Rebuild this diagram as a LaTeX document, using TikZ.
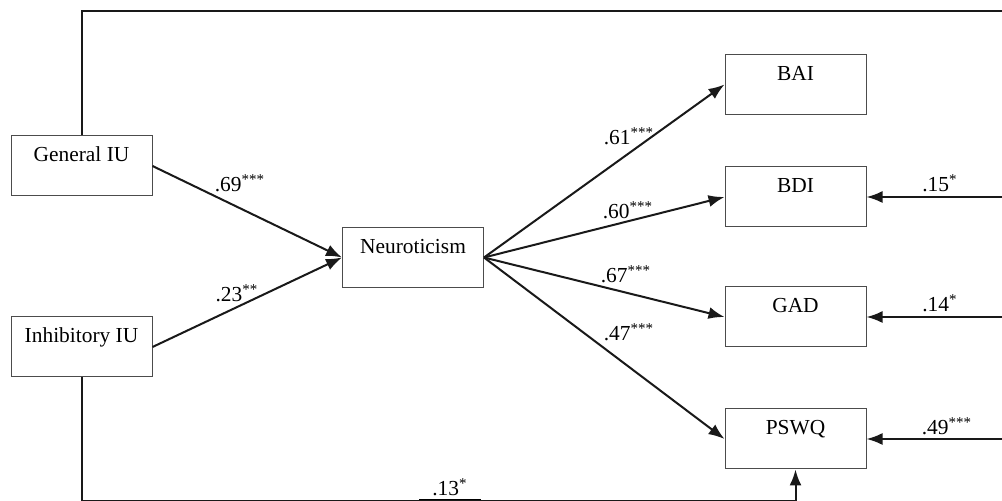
\documentclass[tikz,border=0pt]{standalone}
\usepackage{fontspec}
\setmainfont{Liberation Serif}
\usetikzlibrary{arrows.meta}
\begin{document}
\begin{tikzpicture}[x=0.5pt,y=-0.5pt,
  box/.style={draw=black!70, line width=0.5pt, minimum width=70.5pt, inner sep=0pt,
    text height=13pt, text depth=17pt, font=\fontsize{10.7pt}{12pt}\selectfont},
  conn/.style={line width=1pt, draw=black!90},
  arr/.style={conn, -{Latex[length=8pt,width=6pt]}},
  lab/.style={anchor=base, inner sep=0pt, font=\fontsize{10.7pt}{12pt}\selectfont}]
\useasboundingbox (0,0) rectangle (1002,501);
% boxes
\node[box] (gen)  at (81.5,166)   {General IU};
\node[box] (inh)  at (81.5,347)   {Inhibitory IU};
\node[box] (neu)  at (413,257.5)  {Neuroticism};
\node[box] (bai)  at (795.5,84.5) {BAI};
\node[box] (bdi)  at (795.5,197)  {BDI};
\node[box] (gad)  at (795.5,317)  {GAD};
\node[box] (pswq) at (795.5,439)  {PSWQ};
% helper coordinates
\coordinate (R) at (1010,11);
\coordinate (B) at (400,501.5);
% predictor paths
\draw[arr] (gen.east) -- (neu.west);
\draw[arr] (inh.east) -- (neu.west);
\draw[arr] (neu.east) -- (bai.west);
\draw[arr] (neu.east) -- (bdi.west);
\draw[arr] (neu.east) -- (gad.west);
\draw[arr] (neu.east) -- (pswq.west);
% direct paths from General IU
\draw[conn] (gen.north) |- (R);
\draw[arr] (R) |- (bdi.east);
\draw[arr] (R) |- (gad.east);
\draw[arr] (R) |- (pswq.east);
% direct path from Inhibitory IU
\draw[arr] (inh.south) |- (B) -| (pswq.south);
% labels
\node[lab] (l69) at (240,192) {.69\textsuperscript{***}};
\node[lab] (l23) at (237,302) {.23\textsuperscript{**}};
\node[lab] (l61) at (629,145) {.61\textsuperscript{***}};
\node[lab] (l60) at (628,219) {.60\textsuperscript{***}};
\node[lab] (l67) at (626,283) {.67\textsuperscript{***}};
\node[lab] (l47) at (629,341) {.47\textsuperscript{***}};
\node[lab] (l15) at (940,192) {.15\textsuperscript{*}};
\node[lab] (l14) at (940,312) {.14\textsuperscript{*}};
\node[lab] (l49) at (947,435) {.49\textsuperscript{***}};
\node[lab] (l13) at (450,496) {\underline{\hspace{6.5pt}.13\textsuperscript{*}\hspace{6.5pt}}};
\end{tikzpicture}
\end{document}
